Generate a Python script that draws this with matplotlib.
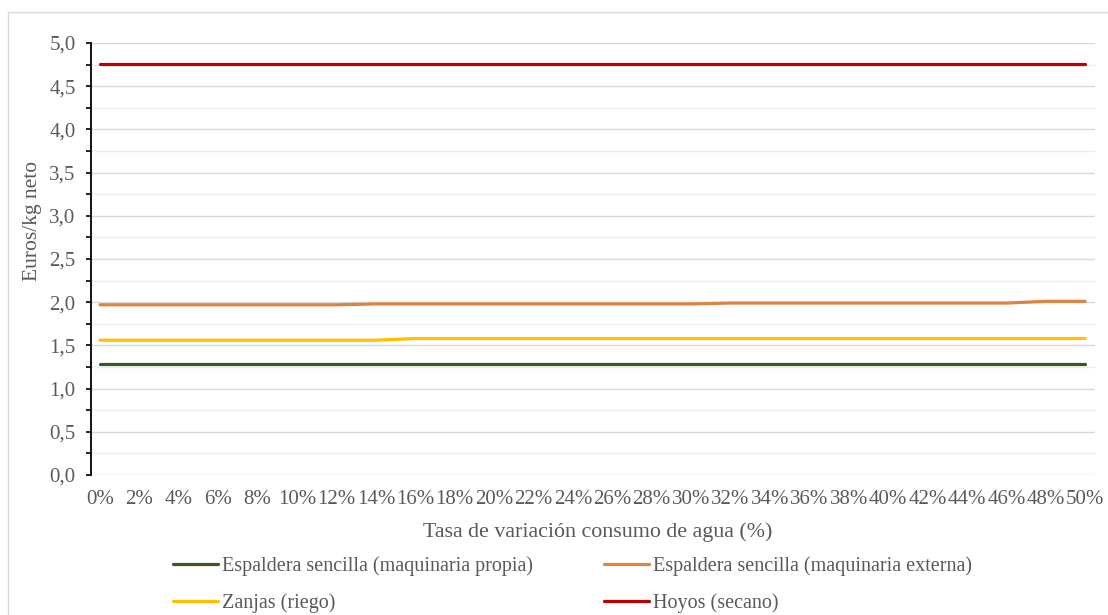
import numpy as np
import matplotlib.pyplot as plt
from matplotlib.patches import Rectangle
from matplotlib.ticker import MultipleLocator

# tasa de variacion del consumo de agua (0% .. 50%)
tasa = list(range(0, 51, 2))
tick_labels = [f"{t}%" for t in tasa]

# euros/kg neto por sistema
espaldera_propia = [1.28] * 26
espaldera_externa = [1.97] * 7 + [1.98] * 9 + [1.99] * 8 + [2.01] * 2
zanjas = [1.56] * 8 + [1.58] * 18
hoyos = [4.76] * 26

series = [
    ("Espaldera sencilla (maquinaria propia)", espaldera_propia, "#385723"),
    ("Espaldera sencilla (maquinaria externa)", espaldera_externa, "#E0823F"),
    ("Zanjas (riego)", zanjas, "#FFC000"),
    ("Hoyos (secano)", hoyos, "#B80000"),
]

plt.rcParams['font.family'] = ['Liberation Serif', 'DejaVu Serif']
txt = "#595959"
W, H = 1108, 615

fig = plt.figure(figsize=(W / 100, H / 100), dpi=100)
ax = fig.add_axes([91 / W, 1 - 475 / H, 1004 / W, 432 / H])

# outer chart border (only left and top edges visible in the crop)
fig.patches.append(Rectangle((8 / W, -0.1), 1.2, 1 - 12 / H + 0.1,
                             transform=fig.transFigure, fill=False,
                             edgecolor="#D9D9D9", linewidth=1.0))

x = np.arange(len(tasa))
handles = []
for name, vals, col in series:
    h, = ax.plot(x, vals, color=col, linewidth=2.3, solid_capstyle='round', label=name)
    handles.append(h)

ax.set_ylim(0, 5)
ax.set_xlim(-0.23, 25.25)
ax.yaxis.set_minor_locator(MultipleLocator(0.25))
yt = np.arange(0, 5.01, 0.5)
ax.set_yticks(yt)
ax.set_yticklabels([f"{v:.1f}".replace(".", ",") for v in yt])
ax.grid(axis='y', which='major', color="#D9D9D9", linewidth=1.0)
ax.grid(axis='y', which='minor', color="#EDEDED", linewidth=1.0)
ax.set_axisbelow(True)

ax.set_xticks(x)
ax.set_xticklabels(tick_labels)
ax.tick_params(axis='x', length=0, pad=11, labelsize=15, labelcolor=txt)
ax.tick_params(axis='y', which='both', direction='out', length=3.6, width=1.2,
               color='black', labelsize=15, labelcolor=txt, pad=7.5)

for s in ['top', 'right', 'bottom']:
    ax.spines[s].set_visible(False)
ax.spines['left'].set_color('black')
ax.spines['left'].set_linewidth(1.3)

# axis titles
fig.text(598 / W, 1 - 532 / H, "Tasa de variación consumo de agua (%)",
         fontsize=15.8, color=txt, ha='center', va='center')
fig.text(33 / W, 1 - 221 / H, "Euros/kg neto", fontsize=15.5, color=txt,
         rotation=90, ha='center', va='center')

# legend: two columns, same order as reference
order = [0, 2, 1, 3]
fig.legend([handles[i] for i in order], [series[i][0] for i in order],
           ncol=2, loc='upper left', bbox_to_anchor=(173 / W, 1 - 556 / H),
           borderaxespad=0, borderpad=0, frameon=False, fontsize=14.5,
           handlelength=2.25, handletextpad=0.2, columnspacing=3.5,
           labelspacing=0.85, labelcolor=txt)

fig.savefig("out.png", dpi=100)
